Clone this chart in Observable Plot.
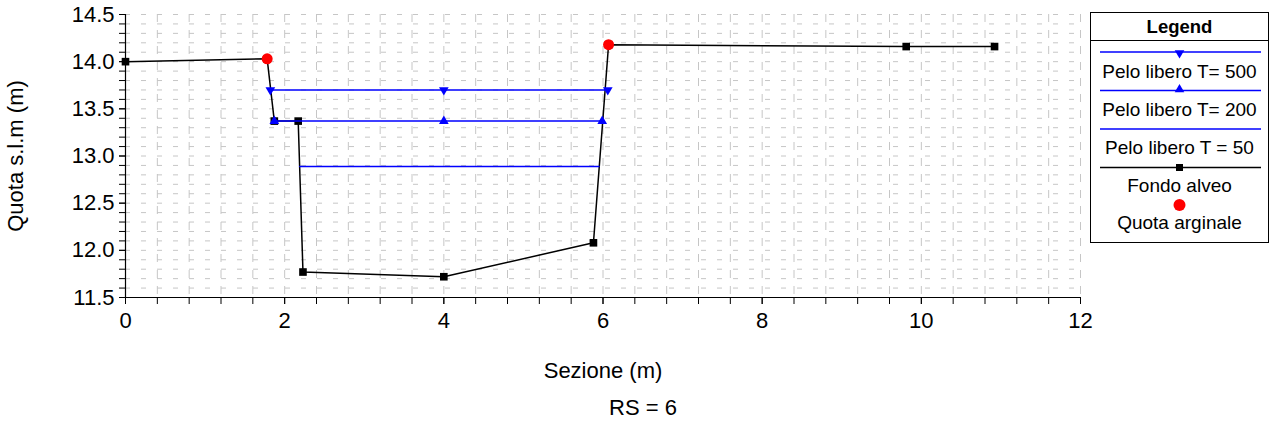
<!DOCTYPE html>
<html><head><meta charset="utf-8">
<script src="https://cdn.jsdelivr.net/npm/d3@7"></script>
<script src="https://cdn.jsdelivr.net/npm/@observablehq/plot@0.6"></script>
<style>
body{margin:0;background:#fff;font-family:"Liberation Sans",Arial,sans-serif;}
#wrap{position:relative;width:1273px;height:427px;overflow:hidden;}
#legend{position:absolute;left:1090px;top:12px;}
#caption{position:absolute;left:443px;width:400px;top:396px;text-align:center;font-size:22px;color:#000;line-height:24px;}
</style></head><body>
<div id="wrap"><div id="chart"></div><div id="legend"></div><div id="caption">RS = 6</div></div>
<script>
// Fondo alveo (channel bed)
const fondoX = [0, 1.78, 1.87, 2.17, 2.23, 4.0, 5.88, 6.07, 9.81, 10.92];
const fondoY = [14.00, 14.03, 13.37, 13.37, 11.77, 11.72, 12.08, 14.18, 14.16, 14.16];
// Quota arginale (bank elevation)
const arginX = [1.78, 6.07];
const arginY = [14.03, 14.18];
// Pelo libero T = 500
const t500X = [1.82, 4.0, 6.06];
const t500Y = [13.70, 13.70, 13.70];
// Pelo libero T = 200
const t200X = [1.87, 4.0, 5.99];
const t200Y = [13.37, 13.37, 13.37];
// Pelo libero T = 50
const t50X = [2.19, 5.95];
const t50Y = [12.89, 12.89];
// Ticks
const xMajor = [0, 2, 4, 6, 8, 10, 12];
const xMinor = [0, 0.4, 0.8, 1.2, 1.6, 2, 2.4, 2.8, 3.2, 3.6, 4, 4.4, 4.8, 5.2, 5.6, 6, 6.4, 6.8, 7.2, 7.6, 8, 8.4, 8.8, 9.2, 9.6, 10, 10.4, 10.8, 11.2, 11.6, 12];
const yMajor = [11.5, 12.0, 12.5, 13.0, 13.5, 14.0, 14.5];
const yMinor = [11.5, 11.6, 11.7, 11.8, 11.9, 12.0, 12.1, 12.2, 12.3, 12.4, 12.5, 12.6, 12.7, 12.8, 12.9, 13.0, 13.1, 13.2, 13.3, 13.4, 13.5, 13.6, 13.7, 13.8, 13.9, 14.0, 14.1, 14.2, 14.3, 14.4, 14.5];

const legendLabels = ["Pelo libero T= 500", "Pelo libero T= 200", "Pelo libero T = 50", "Fondo alveo", "Quota arginale"];

const pts = (xs, ys) => xs.map((x, i) => ({x, y: ys[i]}));
const fondo = pts(fondoX, fondoY);
const argin = pts(arginX, arginY);
const t500 = pts(t500X, t500Y);
const t200 = pts(t200X, t200Y);
const t50 = pts(t50X, t50Y);

const gridColor = "#c6c6c6";
const font = "Liberation Sans, Arial, sans-serif";

const chart = Plot.plot({
  width: 1273, height: 390,
  marginLeft: 125, marginRight: 193, marginTop: 14, marginBottom: 93,
  style: {fontFamily: font, fontSize: "22px", background: "transparent", color: "#000", overflow: "visible"},
  x: {domain: [0, 12]},
  y: {domain: [11.5, 14.5]},
  marks: [
    Plot.gridY(yMinor, {stroke: gridColor, strokeOpacity: 1, strokeWidth: 1, strokeDasharray: "5,11"}),
    Plot.gridX(xMinor, {stroke: gridColor, strokeOpacity: 1, strokeWidth: 1, strokeDasharray: "8,8"}),
    Plot.axisY(yMinor, {tickSize: 6, tickFormat: () => "", label: null}),
    Plot.axisY(yMajor, {tickSize: 6, tickPadding: 5, tickFormat: d3.format(".1f"), fontSize: 22,
      label: "Quota s.l.m (m)", labelAnchor: "center", labelOffset: 118, labelArrow: "none"}),
    Plot.axisX(xMinor, {tickSize: 7, tickFormat: () => "", label: null}),
    Plot.axisX(xMajor, {tickSize: 7, tickPadding: 8, fontSize: 22,
      label: "Sezione (m)", labelAnchor: "center", labelOffset: 80, labelArrow: "none"}),
    Plot.ruleX([0], {stroke: "#000", strokeWidth: 1.2}),
    Plot.ruleY([11.5], {stroke: "#000", strokeWidth: 1.2}),
    Plot.line(fondo, {x: "x", y: "y", stroke: "#000", strokeWidth: 1.5}),
    Plot.dot(fondo, {x: "x", y: "y", symbol: "square", r: 4.3, fill: "#000", stroke: null}),
    Plot.line(t50, {x: "x", y: "y", stroke: "#0000ff", strokeWidth: 1.5}),
    Plot.line(t200, {x: "x", y: "y", stroke: "#0000ff", strokeWidth: 1.5}),
    Plot.dot(t200, {x: "x", y: "y", symbol: "triangle", r: 3.6, fill: "#0000ff", stroke: null}),
    Plot.line(t500, {x: "x", y: "y", stroke: "#0000ff", strokeWidth: 1.5}),
    Plot.dot(t500, {x: "x", y: "y", symbol: "triangle", rotate: 180, r: 3.6, fill: "#0000ff", stroke: null}),
    Plot.dot(argin, {x: "x", y: "y", r: 5.5, fill: "#ff0000", stroke: null})
  ]
});
document.getElementById("chart").appendChild(chart);

// Legend
const lw = 179, lh = 231;
const lsvg = d3.select("#legend").append("svg").attr("width", lw).attr("height", lh)
  .style("font-family", font);
lsvg.append("rect").attr("x", 0.5).attr("y", 0.5).attr("width", lw - 1).attr("height", lh - 1)
  .attr("fill", "#fff").attr("stroke", "#000");
lsvg.append("text").attr("x", lw / 2).attr("y", 14.5).attr("dy", "0.35em").attr("text-anchor", "middle")
  .attr("font-weight", "bold").attr("font-size", 18.5).text("Legend");
lsvg.append("line").attr("x1", 0).attr("x2", lw).attr("y1", 28.5).attr("y2", 28.5).attr("stroke", "#000");
const rows = [
  {line: "#0000ff", sym: "down", ly: 40, ty: 59},
  {line: "#0000ff", sym: "up", ly: 78.5, ty: 97},
  {line: "#0000ff", sym: null, ly: 117, ty: 135},
  {line: "#000", sym: "square", ly: 155.5, ty: 173},
  {line: null, sym: "circle", ly: 193, ty: 210.5}
];
rows.forEach((r, i) => {
  const cx = lw / 2;
  if (r.line) lsvg.append("line").attr("x1", 10).attr("x2", lw - 8).attr("y1", r.ly).attr("y2", r.ly)
    .attr("stroke", r.line).attr("stroke-width", 1.5);
  if (r.sym === "down") lsvg.append("path").attr("d", d3.symbol(d3.symbolTriangle, 40)())
    .attr("transform", `translate(${cx},${r.ly + 1}) rotate(180)`).attr("fill", "#0000ff");
  if (r.sym === "up") lsvg.append("path").attr("d", d3.symbol(d3.symbolTriangle, 40)())
    .attr("transform", `translate(${cx},${r.ly - 1})`).attr("fill", "#0000ff");
  if (r.sym === "square") lsvg.append("rect").attr("x", cx - 3.5).attr("y", r.ly - 3.5).attr("width", 7).attr("height", 7).attr("fill", "#000");
  if (r.sym === "circle") lsvg.append("circle").attr("cx", cx).attr("cy", r.ly).attr("r", 6).attr("fill", "#ff0000");
  lsvg.append("text").attr("x", cx).attr("y", r.ty).attr("dy", "0.35em").attr("text-anchor", "middle")
    .attr("font-size", 19).text(legendLabels[i]);
});
</script>
</body></html>
